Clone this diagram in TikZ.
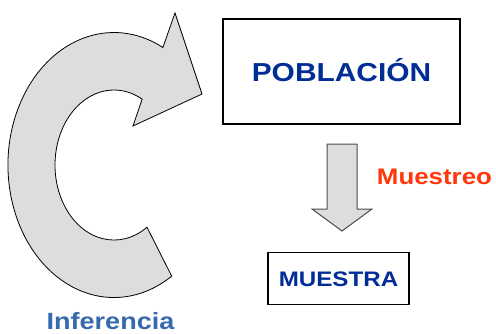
\documentclass[tikz,border=0pt]{standalone}
\usepackage{fontspec}
\usepackage{graphicx}
\setmainfont{Liberation Sans}
\definecolor{popblue}{RGB}{0,45,150}
\definecolor{infblue}{RGB}{55,105,175}
\definecolor{musred}{RGB}{255,55,10}
\definecolor{arrowgray}{RGB}{221,221,221}
\tikzset{
  box/.style={draw=black, line width=1.1pt, fill=white, inner sep=0pt, text depth=0pt},
  blockarrow/.style={draw=black, line width=0.8pt, fill=arrowgray, line join=miter},
  downarrow/.style={draw=black!70, line width=1pt, fill=arrowgray, line join=miter},
  lbl/.style={inner sep=0pt, anchor=base}
}
\begin{document}
\begin{tikzpicture}[x=1pt,y=1pt]
\useasboundingbox (0,0) rectangle (496,333);
% curved arrow (Inferencia)
\draw[blockarrow] (162.9,285.5)
  arc[start angle=62.5, end angle=303, x radius=106, y radius=132.5]
  -- (147,105.8)
  arc[start angle=304, end angle=61.5, x radius=59, y radius=75]
  -- (133,207) -- (202,239) -- (175,320) -- cycle;
% boxes
\node[box, minimum width=237pt, minimum height=105pt, text height=19pt, text=popblue,
  font=\bfseries\fontsize{26}{30}\selectfont] (pob) at (341.5,261.5) {\scalebox{1.15}[1]{POBLACIÓN}};
\node[box, minimum width=141pt, minimum height=52pt, text height=15pt, text=popblue,
  font=\bfseries\fontsize{21}{25}\selectfont] (mue) at (338.5,54.5) {\scalebox{1.15}[1]{MUESTRA}};
% down arrow
\draw[downarrow] (327,189) -- (357,189) -- (357,124) -- (372,124) -- (342,102)
  -- (312,124) -- (327,124) -- cycle;
% labels
\node[lbl, text=musred, font=\bfseries\fontsize{22.5}{26}\selectfont] (muestreo) at (434.5,149) {\scalebox{1.15}[1]{Muestreo}};
\node[lbl, text=infblue, font=\bfseries\fontsize{23.5}{27}\selectfont] (inf) at (110.5,4) {\scalebox{1.15}[1]{Inferencia}};
\end{tikzpicture}
\end{document}
